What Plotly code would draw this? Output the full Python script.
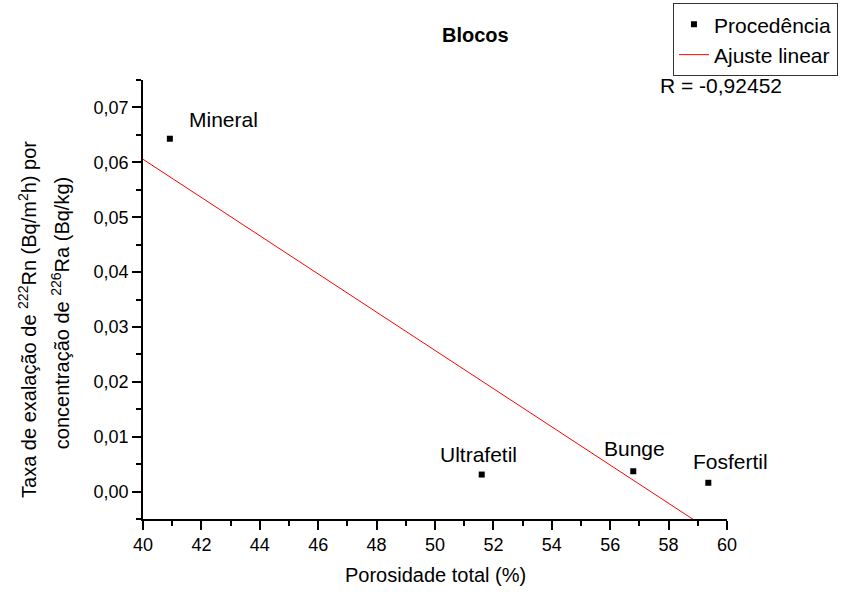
import numpy as np
import plotly.graph_objects as go

names = ["Mineral", "Ultrafetil", "Bunge", "Fosfertil"]
porosidade = [40.92, 51.60, 56.79, 59.36]
taxa = [0.0643, 0.0031, 0.0037, 0.0016]
x_ticks = list(range(40, 61, 2))
y_ticks = [0.00, 0.01, 0.02, 0.03, 0.04, 0.05, 0.06, 0.07]
r_text = "R = -0,92452"

slope, intercept = np.polyfit(porosidade, taxa, 1)
fit_x = np.array([40.0, 60.0])
fit_y = slope * fit_x + intercept

FONT = "Liberation Sans, Arial, sans-serif"

fig = go.Figure()
fig.add_trace(go.Scatter(
    x=porosidade, y=taxa, mode="markers", name="Procedência",
    marker=dict(symbol="square", size=6, color="black"),
))
fig.add_trace(go.Scatter(
    x=fit_x, y=fit_y, mode="lines", name="Ajuste linear",
    line=dict(color="red", width=1),
))

label_offsets = {"Mineral": (17, 19, "left"), "Ultrafetil": (-3, 20, "center"),
                 "Bunge": (1, 23, "center"), "Fosfertil": (22, 21, "center")}
for n, xv, yv in zip(names, porosidade, taxa):
    dx, dy, anc = label_offsets[n]
    fig.add_annotation(x=xv, y=yv, text=n, showarrow=False, xshift=dx, yshift=dy,
                       xanchor=anc, yanchor="middle",
                       font=dict(family=FONT, size=21, color="black"))

fig.add_annotation(xref="paper", yref="paper", x=0.570, y=1.1025, text="<b>Blocos</b>",
                   showarrow=False, xanchor="center", yanchor="middle",
                   font=dict(family=FONT, size=20, color="black"))
fig.add_annotation(xref="paper", yref="paper", x=0.882, y=0.9886, text=r_text,
                   showarrow=False, xanchor="left", yanchor="middle",
                   font=dict(family=FONT, size=21, color="black"))
fig.add_annotation(xref="paper", yref="paper", x=-0.197, y=0.4556, textangle=-90,
                   text="Taxa de exalação de <sup>222</sup>Rn (Bq/m<sup>2</sup>h) por",
                   showarrow=False, xanchor="center", yanchor="middle",
                   font=dict(family=FONT, size=20, color="black"))
fig.add_annotation(xref="paper", yref="paper", x=-0.142, y=0.469, textangle=-90,
                   text="concentração de <sup>226</sup>Ra (Bq/kg)",
                   showarrow=False, xanchor="center", yanchor="middle",
                   font=dict(family=FONT, size=20, color="black"))
fig.add_annotation(xref="paper", yref="paper", x=0.5, y=-0.1276,
                   text="Porosidade total (%)",
                   showarrow=False, xanchor="center", yanchor="middle",
                   font=dict(family=FONT, size=20, color="black"))

fig.update_layout(
    width=845, height=592,
    margin=dict(l=143, r=118, t=80, b=73, autoexpand=False),
    paper_bgcolor="white", plot_bgcolor="white",
    separators=",.",
    font=dict(family=FONT, size=18, color="black"),
    legend=dict(x=1.19, y=1.175, xanchor="right", yanchor="top",
                bordercolor="#333", borderwidth=1, bgcolor="white",
                font=dict(family=FONT, size=21), tracegroupgap=0),
    xaxis=dict(range=[40, 60], tickvals=x_ticks, showgrid=False, zeroline=False,
               showline=True, linecolor="black", linewidth=1.5,
               ticks="outside", ticklen=9, tickwidth=1.5, tickcolor="black",
               tickfont=dict(size=18),
               minor=dict(dtick=1, ticks="outside", ticklen=5, tickwidth=1.5, tickcolor="black", showgrid=False)),
    yaxis=dict(range=[-0.005, 0.075], tickvals=y_ticks, tickformat=".2f",
               showgrid=False, zeroline=False,
               showline=True, linecolor="black", linewidth=1.5,
               ticks="outside", ticklen=9, tickwidth=1.5, tickcolor="black",
               tickfont=dict(size=18),
               minor=dict(dtick=0.005, tick0=0, ticks="outside", ticklen=5, tickwidth=1.5, tickcolor="black", showgrid=False)),
    showlegend=True,
)

fig.write_html("out.html")
